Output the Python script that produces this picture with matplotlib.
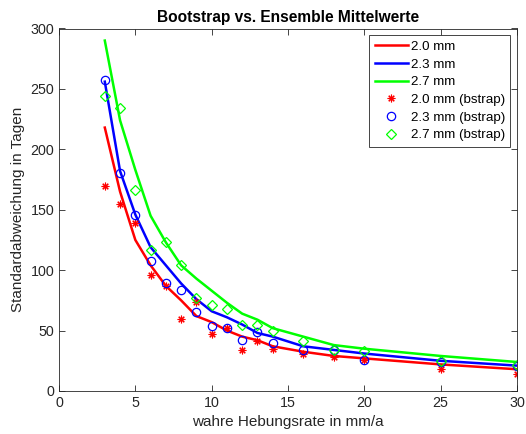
import numpy as np
import matplotlib.pyplot as plt

plt.rcParams['font.family'] = ['Liberation Sans', 'DejaVu Sans']

# Hebungsrate (mm/a)
rate = [3, 4, 5, 6, 7, 8, 9, 10, 11, 12, 13, 14, 16, 18, 20, 25, 30]

# Ensemble-Mittelwerte
ens_20 = [218, 165, 125, 104, 87, 75, 62, 57, 50, 45, 42, 37, 32.5, 29, 27, 22, 18]
ens_23 = [256, 182, 146, 119, 104, 89, 76, 66, 61, 55, 48, 45, 37, 34, 31, 25, 21]
ens_27 = [290, 224, 183, 145, 123, 104, 93, 83, 73, 64, 59, 52, 45, 38, 35, 29, 24]

# Bootstrap
bs_20 = [170, 155, 139, 96, 87, 59.5, 74, 47, 52, 34, 41, 35, 31, 28.5, 26, 18, 14]
bs_23 = [257, 180, 146, 108, 89, 84, 65, 54, 52, 42, 49, 40, 34, 34, 26, 24, 21]
bs_27 = [244, 234, 166, 117, 123, 104, 77, 71, 68, 55, 55, 50, 41, 34, 33, 24.5, 21.5]

fig = plt.figure(figsize=(5.26, 4.34), dpi=100)
ax = fig.add_axes([59 / 526, 43 / 434, 458 / 526, 362.5 / 434])

ax.plot(rate, ens_20, color='#ff0000', lw=1.8, label='2.0 mm')
ax.plot(rate, ens_23, color='#0000ff', lw=1.8, label='2.3 mm')
ax.plot(rate, ens_27, color='#00ff00', lw=1.8, label='2.7 mm')
# MATLAB-artiges Sternchen (8 Strahlen)
ax.plot(rate, bs_20, ls='none', marker=(8, 2, 0), color='#ff0000', ms=5.5, mew=0.8,
        label='2.0 mm (bstrap)')
ax.plot(rate, bs_23, ls='none', marker='o', mfc='none', mec='#0000ff', ms=6,
        mew=0.9, label='2.3 mm (bstrap)')
ax.plot(rate, bs_27, ls='none', marker='D', mfc='none', mec='#00ff00', ms=5,
        mew=0.9, label='2.7 mm (bstrap)')

ax.set_xlim(0, 30)
ax.set_ylim(0, 300)
ax.set_xticks(np.arange(0, 31, 5))
ax.set_yticks(np.arange(0, 301, 50))
ax.tick_params(direction='in', top=True, right=True, length=4, width=0.6,
               labelsize=10.3, colors='#262626')
for s in ax.spines.values():
    s.set_color('#262626')
    s.set_linewidth(0.6)

ax.set_title('Bootstrap vs. Ensemble Mittelwerte', fontsize=11.2, fontweight='bold', pad=5)
ax.set_xlabel('wahre Hebungsrate in mm/a', fontsize=11, color='#262626')
ax.set_ylabel('Standardabweichung in Tagen', fontsize=11, color='#262626')

leg = ax.legend(loc='upper right', fontsize=9.6, frameon=True, fancybox=False,
                edgecolor='#262626', framealpha=1, borderaxespad=0.5,
                handlelength=2.5, handletextpad=0.2, labelspacing=0.4,
                borderpad=0.4)
leg.get_frame().set_linewidth(0.6)

fig.savefig('out.png', dpi=100)
